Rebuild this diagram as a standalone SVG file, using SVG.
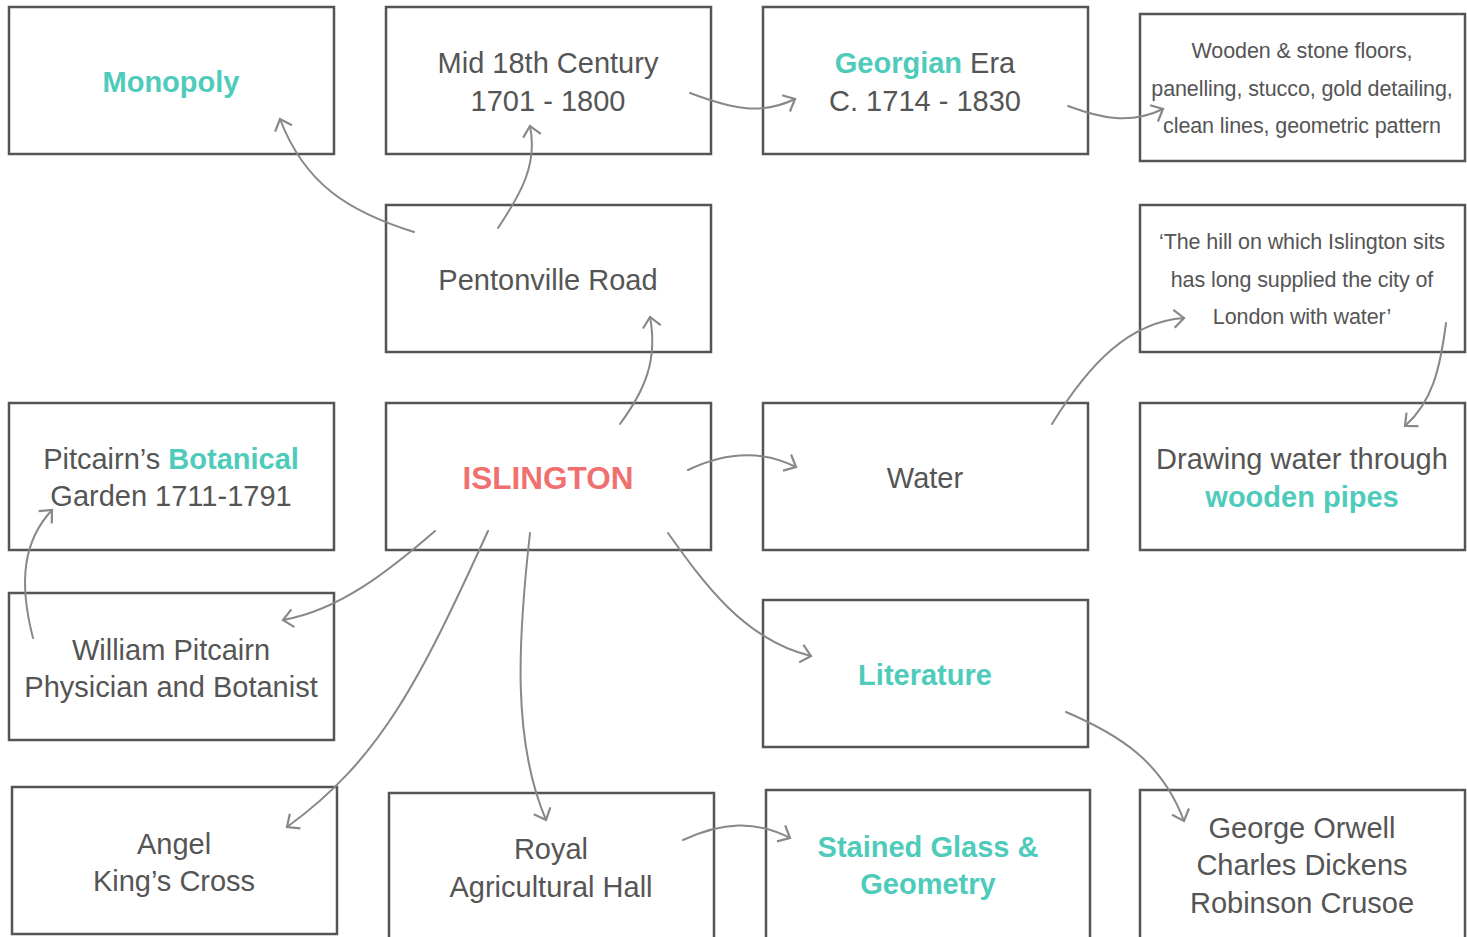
<svg xmlns="http://www.w3.org/2000/svg" width="1467" height="937" viewBox="0 0 1467 937">
<defs>
<style>
.box{fill:#fff;stroke:#555;stroke-width:2.5}
.t{font-family:"Liberation Sans",Arial,sans-serif;font-size:29px;fill:#555;text-anchor:middle}
.s{font-size:21.5px;letter-spacing:-0.1px}
.hl{fill:#4ECBBA;font-weight:bold}
.red{fill:#F07070;font-weight:bold;font-size:31.5px}
.c{fill:none;stroke:#888;stroke-width:2;stroke-linecap:round;marker-end:url(#a)}
</style>
<marker id="a" markerUnits="userSpaceOnUse" markerWidth="24" markerHeight="24" refX="12" refY="12" orient="auto">
<path d="M2,3 L12,12 L2,21" fill="none" stroke="#888" stroke-width="2.2"/>
</marker>
</defs>
<rect width="1467" height="937" fill="#fff"/>
<g id="nodes">
<g id="monopoly"><rect class="box" x="9" y="7" width="325" height="147"/><text class="t hl" x="171" y="92">Monopoly</text></g>
<g id="mid18"><rect class="box" x="386" y="7" width="325" height="147"/><text class="t" x="548" y="73">Mid 18th Century</text><text class="t" x="548" y="111">1701 - 1800</text></g>
<g id="georgian"><rect class="box" x="763" y="7" width="325" height="147"/><text class="t" x="925" y="73"><tspan class="hl">Georgian</tspan> Era</text><text class="t" x="925" y="111">C. 1714 - 1830</text></g>
<g id="wooden"><rect class="box" x="1140" y="14" width="325" height="147"/><text class="t s" x="1302" y="58">Wooden &amp; stone floors,</text><text class="t s" x="1302" y="96">panelling, stucco, gold detailing,</text><text class="t s" x="1302" y="133">clean lines, geometric pattern</text></g>
<g id="pentonville"><rect class="box" x="386" y="205" width="325" height="147"/><text class="t" x="548" y="290">Pentonville Road</text></g>
<g id="quote"><rect class="box" x="1140" y="205" width="325" height="147"/><text class="t s" x="1302" y="249">‘The hill on which Islington sits</text><text class="t s" x="1302" y="287">has long supplied the city of</text><text class="t s" x="1302" y="324">London with water’</text></g>
<g id="pitcairn"><rect class="box" x="9" y="403" width="325" height="147"/><text class="t" x="171" y="469">Pitcairn’s <tspan class="hl">Botanical</tspan></text><text class="t" x="171" y="506">Garden 1711-1791</text></g>
<g id="islington"><rect class="box" x="386" y="403" width="325" height="147"/><text class="t red" x="548" y="489">ISLINGTON</text></g>
<g id="water"><rect class="box" x="763" y="403" width="325" height="147"/><text class="t" x="925" y="488">Water</text></g>
<g id="drawing"><rect class="box" x="1140" y="403" width="325" height="147"/><text class="t" x="1302" y="469">Drawing water through</text><text class="t hl" x="1302" y="507">wooden pipes</text></g>
<g id="william"><rect class="box" x="9" y="593" width="325" height="147"/><text class="t" x="171" y="660">William Pitcairn</text><text class="t" x="171" y="697">Physician and Botanist</text></g>
<g id="literature"><rect class="box" x="763" y="600" width="325" height="147"/><text class="t hl" x="925" y="685">Literature</text></g>
<g id="angel"><rect class="box" x="12" y="787" width="325" height="147"/><text class="t" x="174" y="854">Angel</text><text class="t" x="174" y="891">King’s Cross</text></g>
<g id="royal"><rect class="box" x="389" y="793" width="325" height="150"/><text class="t" x="551" y="859">Royal</text><text class="t" x="551" y="897">Agricultural Hall</text></g>
<g id="stained"><rect class="box" x="766" y="790" width="324" height="150"/><text class="t hl" x="928" y="857">Stained Glass &amp;</text><text class="t hl" x="928" y="894">Geometry</text></g>
<g id="george"><rect class="box" x="1140" y="790" width="325" height="150"/><text class="t" x="1302" y="838">George Orwell</text><text class="t" x="1302" y="875">Charles Dickens</text><text class="t" x="1302" y="913">Robinson Crusoe</text></g>
</g>
<g id="connectors">
<path class="c" d="M414,232 C350,212 305,185 280,119"/>
<path class="c" d="M498,228 C520,195 538,165 530,126"/>
<path class="c" d="M690,93 C730,108 760,116 795,99"/>
<path class="c" d="M1068,106 C1100,118 1130,125 1163,109"/>
<path class="c" d="M620,424 C645,390 658,360 650,317"/>
<path class="c" d="M688,470 C725,452 762,450 796,467"/>
<path class="c" d="M1052,424 C1090,362 1130,322 1184,318"/>
<path class="c" d="M1446,323 C1440,370 1432,402 1405,426"/>
<path class="c" d="M435,531 C390,570 340,610 283,620"/>
<path class="c" d="M33,638 C18,580 24,540 52,510"/>
<path class="c" d="M488,531 C420,680 380,760 287,827"/>
<path class="c" d="M530,533 C518,640 512,740 546,820"/>
<path class="c" d="M668,533 C705,585 745,640 811,656"/>
<path class="c" d="M1066,712 C1120,735 1162,762 1184,821"/>
<path class="c" d="M683,840 C722,822 755,820 790,838"/>
</g>
</svg>
